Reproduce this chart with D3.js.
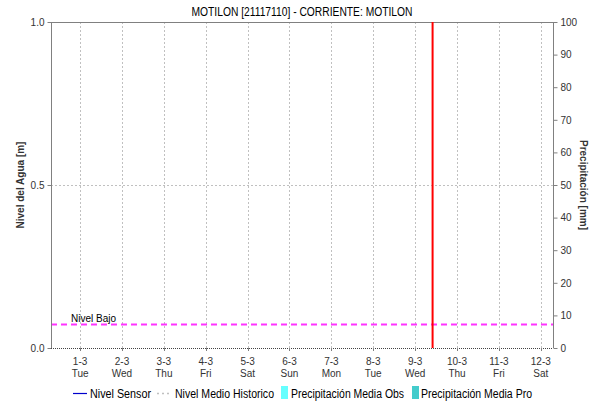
<!DOCTYPE html>
<html><head><meta charset="utf-8">
<script src="https://cdn.jsdelivr.net/npm/d3@7"></script>
<style>body{margin:0;background:#fff}svg{display:block;font-family:"Liberation Sans",Arial,sans-serif}</style>
</head><body><svg id="c" width="590" height="403"></svg>
<script>
const title = "MOTILON [21117110] - CORRIENTE: MOTILON";
const dayDates = ["2022-03-01","2022-03-02","2022-03-03","2022-03-04","2022-03-05","2022-03-06","2022-03-07","2022-03-08","2022-03-09","2022-03-10","2022-03-11","2022-03-12"];
const dayLabels = ["1-3","2-3","3-3","4-3","5-3","6-3","7-3","8-3","9-3","10-3","11-3","12-3"];
const weekdayLabels = ["Tue","Wed","Thu","Fri","Sat","Sun","Mon","Tue","Wed","Thu","Fri","Sat"];
const timeDomain = ["2022-02-28T07:20","2022-03-12T07:00"];
const nowMarker = "2022-03-09T10:00";
const nivelBajo = 0.072;
const leftTicks = [0.0, 0.5, 1.0];
const rightTicks = [0,10,20,30,40,50,60,70,80,90,100];
const legendItems = ["Nivel Sensor","Nivel Medio Historico","Precipitación Media Obs","Precipitación Media Pro"];

const svg = d3.select("#c");
const L=51, R=553, T=22, B=348;
const parse = d3.timeParse("%Y-%m-%dT%H:%M");
const parseD = d3.timeParse("%Y-%m-%d");
const x = d3.scaleTime().domain(timeDomain.map(parse)).range([L,R]);
const y = d3.scaleLinear().domain([0,1]).range([B,T]);
const y2 = d3.scaleLinear().domain([0,100]).range([B,T]);

// title
svg.append("text").attr("x",(L+R)/2).attr("y",16).attr("text-anchor","middle").attr("font-size",12)
  .attr("textLength",221).attr("lengthAdjust","spacingAndGlyphs").text(title);

// vertical grid
const days = dayDates.map(parseD);
svg.append("g").selectAll("line").data(days).join("line")
  .attr("x1",d=>Math.round(x(d))+0.5).attr("x2",d=>Math.round(x(d))+0.5).attr("y1",T).attr("y2",B)
  .attr("stroke","#c0c0c0").attr("stroke-dasharray","2,2");
// horizontal grid at 0.5
svg.append("line").attr("x1",L).attr("x2",R).attr("y1",Math.round(y(0.5))+0.5).attr("y2",Math.round(y(0.5))+0.5)
  .attr("stroke","#c0c0c0").attr("stroke-dasharray","2,2");

// frame top
svg.append("line").attr("x1",L).attr("x2",R).attr("y1",T+0.5).attr("y2",T+0.5).attr("stroke","#808080");

// nivel bajo
svg.append("line").attr("x1",L).attr("x2",R).attr("y1",y(nivelBajo)).attr("y2",y(nivelBajo))
  .attr("stroke","#ff33ff").attr("stroke-width",2).attr("stroke-dasharray","6,4");
svg.append("text").attr("x",71).attr("y",y(nivelBajo)-3).attr("font-size",10).text("Nivel Bajo");

// now marker
svg.append("line").attr("x1",x(parse(nowMarker))).attr("x2",x(parse(nowMarker))).attr("y1",T).attr("y2",B)
  .attr("stroke","#ff0000").attr("stroke-width",2);

// left axis
const gl = svg.append("g").attr("transform",`translate(${L+0.5},0)`)
  .call(d3.axisLeft(y).tickValues(leftTicks).tickFormat(d3.format(".1f")).tickSize(4).tickPadding(3));
gl.select(".domain").attr("stroke","#808080").attr("d",`M0,${T}V${B}`);
gl.selectAll(".tick line").attr("stroke","#808080");
gl.selectAll("text").attr("font-size",10).attr("font-family","Liberation Sans, Arial, sans-serif").attr("fill","#333");

// right axis
const gr = svg.append("g").attr("transform",`translate(${R+0.5},0)`)
  .call(d3.axisRight(y2).tickValues(rightTicks).tickSize(4).tickPadding(3));
gr.select(".domain").attr("stroke","#808080").attr("d",`M0,${T}V${B}`);
gr.selectAll(".tick line").attr("stroke","#808080");
gr.selectAll("text").attr("font-size",10).attr("font-family","Liberation Sans, Arial, sans-serif").attr("fill","#333");

// bottom axis (dotted)
svg.append("line").attr("x1",L).attr("x2",R).attr("y1",B+0.5).attr("y2",B+0.5)
  .attr("stroke","#444").attr("stroke-dasharray","1,1");
const gb = svg.append("g").attr("transform",`translate(0,${B})`);
gb.selectAll("text.d").data(days).join("text").attr("class","d")
  .attr("x",d=>x(d)).attr("y",17).attr("text-anchor","middle").attr("font-size",10).attr("fill","#333")
  .text((d,i)=>dayLabels[i]);
gb.selectAll("text.w").data(days).join("text").attr("class","w")
  .attr("x",d=>x(d)).attr("y",29).attr("text-anchor","middle").attr("font-size",10).attr("fill","#333")
  .text((d,i)=>weekdayLabels[i]);
gb.selectAll("line.t").data(days).join("line").attr("class","t")
  .attr("x1",d=>Math.round(x(d))+0.5).attr("x2",d=>Math.round(x(d))+0.5).attr("y1",0).attr("y2",3).attr("stroke","#808080");

// axis titles
svg.append("text").attr("transform",`translate(24,${(T+B)/2}) rotate(-90)`).attr("text-anchor","middle")
  .attr("font-size",10).attr("font-weight","bold").attr("fill","#333").text("Nivel del Agua [m]");
svg.append("text").attr("transform",`translate(580,${(T+B)/2}) rotate(90)`).attr("text-anchor","middle")
  .attr("font-size",10).attr("font-weight","bold").attr("fill","#333").text("Precipitación [mm]");

// legend
const lg = svg.append("g").attr("font-size",12);
const ly = 393;
const la = (sel,len)=>sel.attr("textLength",len).attr("lengthAdjust","spacingAndGlyphs");
lg.append("line").attr("x1",73).attr("x2",87).attr("y1",ly+0.5).attr("y2",ly+0.5).attr("stroke","#0000cc").attr("stroke-width",1.2);
la(lg.append("text").attr("x",90).attr("y",ly+4.5).text(legendItems[0]),61);
lg.append("line").attr("x1",157).attr("x2",171).attr("y1",ly+0.5).attr("y2",ly+0.5).attr("stroke","#c0c0c0").attr("stroke-width",1.5).attr("stroke-dasharray","2,3");
la(lg.append("text").attr("x",175).attr("y",ly+4.5).text(legendItems[1]),99);
lg.append("rect").attr("x",281).attr("y",386).attr("width",7).attr("height",13).attr("fill","#66ffff");
la(lg.append("text").attr("x",291).attr("y",ly+4.5).text(legendItems[2]),113);
lg.append("rect").attr("x",412).attr("y",386).attr("width",7).attr("height",13).attr("fill","#44cccc");
la(lg.append("text").attr("x",421).attr("y",ly+4.5).text(legendItems[3]),111);
</script></body></html>
